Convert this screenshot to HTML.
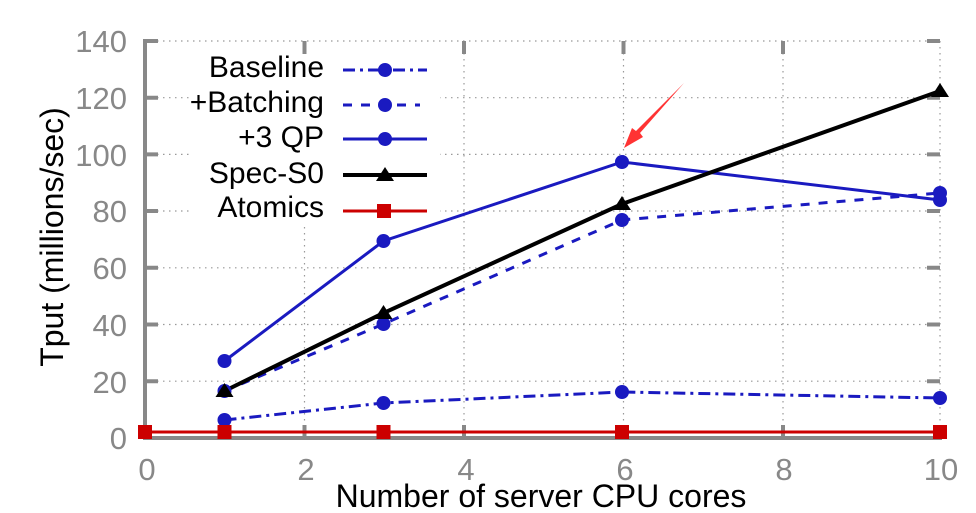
<!DOCTYPE html>
<html><head><style>body{margin:0;background:#fff}svg{display:block}</style></head><body>
<svg width="976" height="513" viewBox="0 0 976 513" xmlns="http://www.w3.org/2000/svg" font-family="Liberation Sans, sans-serif">
<g stroke="#999" stroke-width="1.2" stroke-dasharray="1.5,4.5" fill="none">
<path d="M145 41H940M145 97.7H940M145 154.4H940M145 211H940M145 267.8H940M145 324.5H940M145 381.2H940"/>
<path d="M304.5 41V438M464 41V438M623.5 41V438M783 41V438M940 41V438"/>
</g>
<rect x="192" y="48" width="248" height="178" fill="#fff"/>
<g stroke="#888" stroke-width="4" fill="none">
<path d="M145 39V440M143 438H942"/>
<path d="M145 41H158M145 97.7H158M145 154.4H158M145 211H158M145 267.8H158M145 324.5H158M145 381.2H158"/>
<path d="M940 97.7H927M940 154.4H927M940 211H927M940 267.8H927M940 324.5H927M940 381.2H927M940 41H927"/>
<path d="M304.5 438V425M464 438V425M623.5 438V425M783 438V425M940 438V425"/>
<path d="M304.5 41V54M464 41V54M623.5 41V54M783 41V54"/>
</g>
<g fill="#888" font-size="31" text-anchor="end">
<text x="127" y="52">140</text><text x="127" y="109">120</text><text x="127" y="166">100</text><text x="127" y="222">80</text><text x="127" y="279">60</text><text x="127" y="336">40</text><text x="127" y="393">20</text><text x="127" y="449">0</text>
</g>
<g fill="#888" font-size="31" text-anchor="middle">
<text x="147" y="480">0</text><text x="306" y="480">2</text><text x="466" y="480">4</text><text x="625" y="480">6</text><text x="784" y="480">8</text><text x="941" y="480">10</text>
</g>
<text x="541" y="507" font-size="32" text-anchor="middle">Number of server CPU cores</text>
<text transform="translate(63 237) rotate(-90)" font-size="32" text-anchor="middle">Tput (millions/sec)</text>
<g font-size="30" text-anchor="end">
<text x="324" y="77">Baseline</text><text x="324" y="112">+Batching</text><text x="324" y="147">+3 QP</text><text x="324" y="183">Spec-S0</text><text x="324" y="217">Atomics</text>
</g>
<g fill="none">
<path d="M343 70H427" stroke="#1a1ac0" stroke-width="3" stroke-dasharray="12,5,3,5"/>
<path d="M343 105H420" stroke="#1a1ac0" stroke-width="3" stroke-dasharray="9,9"/>
<path d="M343 139H427" stroke="#1a1ac0" stroke-width="3"/>
<path d="M343 175H427" stroke="#000" stroke-width="4"/>
<path d="M343 211H427" stroke="#c00" stroke-width="3"/>
<path d="M145 432H940" stroke="#c00" stroke-width="3"/>
<path d="M224.5 420L383.5 403L622 392L940 398" stroke="#1a1ac0" stroke-width="3" stroke-dasharray="12,5,3,5"/>
<path d="M224.5 391L383.5 324L622 220L940 193" stroke="#1a1ac0" stroke-width="3" stroke-dasharray="9,9"/>
<path d="M224.5 361L383.5 241L622 162L940 200" stroke="#1a1ac0" stroke-width="3"/>
<path d="M224.5 391L383.5 313L622 204L940 91" stroke="#000" stroke-width="4"/>
</g>
<g fill="#1a1ac0">
<circle cx="385" cy="70" r="7"/><circle cx="385" cy="105" r="7"/><circle cx="385" cy="139" r="7"/>
<circle cx="224.5" cy="420" r="7"/><circle cx="383.5" cy="403" r="7"/><circle cx="622" cy="392" r="7"/><circle cx="940" cy="398" r="7"/>
<circle cx="224.5" cy="391" r="7"/><circle cx="383.5" cy="324" r="7"/><circle cx="622" cy="220" r="7"/><circle cx="940" cy="193" r="7"/>
<circle cx="224.5" cy="361" r="7"/><circle cx="383.5" cy="241" r="7"/><circle cx="622" cy="162" r="7"/><circle cx="940" cy="200" r="7"/>
</g>
<g fill="#000">
<path d="M385 167l9 14h-18z"/><path d="M224.5 383l9 14h-18z"/><path d="M383.5 305l9 14h-18z"/><path d="M622 196l9 14h-18z"/><path d="M940 83l9 14h-18z"/>
</g>
<g fill="#c00">
<rect x="377" y="204" width="14" height="14"/><rect x="138" y="425" width="14" height="14"/><rect x="217.5" y="425" width="14" height="14"/><rect x="376.5" y="425" width="14" height="14"/><rect x="615" y="425" width="14" height="14"/><rect x="933" y="425" width="14" height="14"/>
</g>
<path d="M684 83L640 133L643 137L624 148L632 128L636 131Z" fill="#f33"/>
</svg>
</body></html>
